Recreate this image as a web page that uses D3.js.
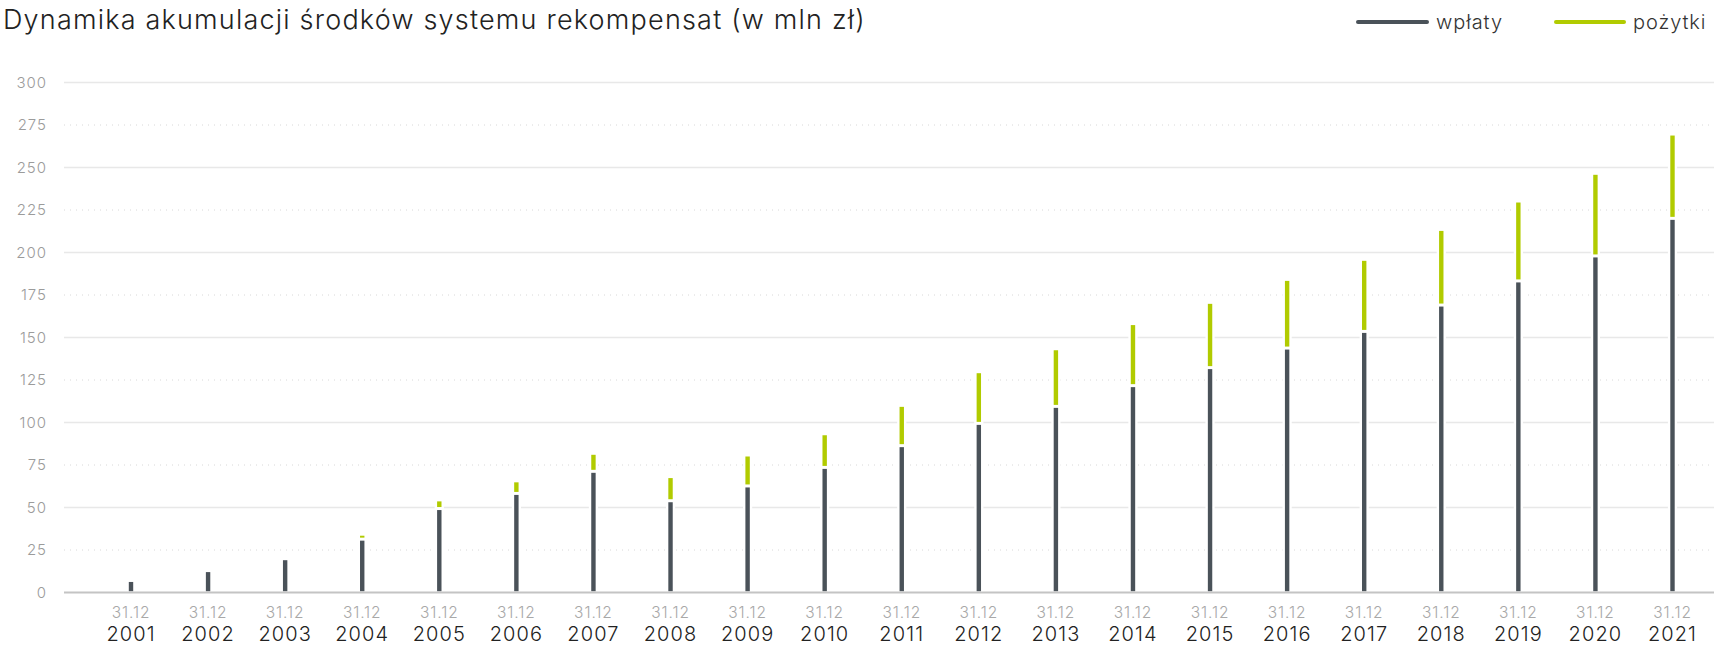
<!DOCTYPE html>
<html>
<head>
<meta charset="utf-8">
<script src="https://cdnjs.cloudflare.com/ajax/libs/d3/7.8.5/d3.min.js"></script>
<style>
  body { margin: 0; background: #fff; }
  svg { display: block; font-family: Inter, 'Noto Sans', sans-serif; }
</style>
</head>
<body>
<div id="chart"></div>
<script>
// Dynamika akumulacji środków systemu rekompensat (w mln zł)
const years = ['2001', '2002', '2003', '2004', '2005', '2006', '2007', '2008', '2009', '2010', '2011',
    '2012', '2013', '2014', '2015', '2016', '2017', '2018', '2019', '2020', '2021'];
const dateLabel = '31.12';
const wplaty = [6.2, 12, 19, 30.5, 48.5, 57.4, 70.4, 53.1, 61.8, 72.7, 85.5,
    98.6, 108.6, 120.8, 131.4, 142.9, 152.7, 168.2, 182.4, 197.1, 219.2];
const pozytki = [0, 0, 0, 2.9, 5.1, 7.4, 10.6, 14.2, 18.2, 19.8, 23.7,
    30.4, 33.9, 36.5, 38.4, 40.4, 42.4, 44.5, 47, 48.6, 49.6];
const yTicks = [0, 25, 50, 75, 100, 125, 150, 175, 200, 225, 250, 275, 300];
const seriesNames = ['wpłaty', 'pożytki'];
const colors = ['#4a5259', '#b1cb00'];

const svgWidth = 1714;
const svgHeight = 645;

const chartData = years.map((yr, i) => ({ year: yr, w: wplaty[i], p: pozytki[i] }));

const svg = d3.select('#chart')
    .append('svg')
    .attr('width', svgWidth)
    .attr('height', svgHeight);

const xScale = d3.scalePoint()
    .domain(years)
    .range([131, 1672.5]);
const yScale = d3.scaleLinear()
    .domain([0, 300])
    .range([592.5, 82.5]);

// title
svg.append('text')
    .attr('x', 3)
    .attr('y', 29)
    .attr('font-size', 27)
    .attr('font-weight', 300)
    .attr('letter-spacing', 1.2)
    .attr('fill', '#222')
    .text('Dynamika akumulacji środków systemu rekompensat (w mln zł)');

// legend
const legendPos = [{ x1: 1358, x2: 1427, tx: 1436 }, { x1: 1556, x2: 1624, tx: 1633 }];
seriesNames.forEach((name, i) => {
    svg.append('line')
        .attr('x1', legendPos[i].x1).attr('x2', legendPos[i].x2)
        .attr('y1', 22).attr('y2', 22)
        .attr('stroke', colors[i])
        .attr('stroke-width', 4)
        .attr('stroke-linecap', 'round');
    svg.append('text')
        .attr('x', legendPos[i].tx)
        .attr('y', 28.5)
        .attr('font-size', 20)
        .attr('font-weight', 300)
        .attr('letter-spacing', 0.9)
        .attr('fill', '#333')
        .text(name);
});

// grid
svg.append('g')
    .selectAll('line')
    .data(yTicks.filter(t => t > 0))
    .enter()
    .append('line')
    .attr('x1', 64)
    .attr('x2', svgWidth)
    .attr('y1', d => yScale(d))
    .attr('y2', d => yScale(d))
    .attr('stroke', d => d % 50 === 0 ? '#e8e8e8' : '#d8d8d8')
    .attr('stroke-width', d => d % 50 === 0 ? 1.5 : 1)
    .attr('stroke-dasharray', d => d % 50 === 0 ? null : '1,5');

// y axis labels
const yAxis = svg.append('g')
    .attr('transform', 'translate(47,0)')
    .call(d3.axisLeft(yScale).tickValues(yTicks).tickSize(0).tickPadding(0));
yAxis.select('.domain').remove();
yAxis.selectAll('text')
    .attr('font-family', 'Inter, sans-serif')
    .attr('font-size', 15)
    .attr('font-weight', 300)
    .attr('letter-spacing', 1)
    .attr('fill', '#9b9b9b');

// bars
const bars = svg.append('g')
    .selectAll('g')
    .data(chartData)
    .enter()
    .append('g');

bars.append('rect')
    .attr('x', d => xScale(d.year) - 4.6)
    .attr('width', 9.2)
    .attr('y', d => yScale(d.w + d.p) - 1)
    .attr('height', d => yScale(0) - yScale(d.w + d.p))
    .attr('fill', '#fff');

bars.append('rect')
    .attr('x', d => xScale(d.year) - 2.2)
    .attr('width', 4.4)
    .attr('y', d => yScale(d.w))
    .attr('height', d => yScale(0) - 1.2 - yScale(d.w))
    .attr('fill', colors[0]);

bars.filter(d => d.p > 0)
    .append('rect')
    .attr('x', d => xScale(d.year) - 2.2)
    .attr('width', 4.4)
    .attr('y', d => yScale(d.w + d.p))
    .attr('height', d => Math.max(1.5, yScale(d.w) - 3 - yScale(d.w + d.p)))
    .attr('fill', colors[1]);

// baseline
svg.append('line')
    .attr('x1', 64)
    .attr('x2', svgWidth)
    .attr('y1', yScale(0))
    .attr('y2', yScale(0))
    .attr('stroke', '#c4c4c4')
    .attr('stroke-width', 2);

// x labels
const xLabels = svg.append('g')
    .selectAll('g')
    .data(years)
    .enter()
    .append('g')
    .attr('transform', d => `translate(${xScale(d)},0)`);

xLabels.append('text')
    .attr('y', 617.5)
    .attr('text-anchor', 'middle')
    .attr('font-size', 15.5)
    .attr('font-weight', 300)
    .attr('letter-spacing', 0.9)
    .attr('fill', '#a8a8a8')
    .text(dateLabel);

xLabels.append('text')
    .attr('y', 640.5)
    .attr('text-anchor', 'middle')
    .attr('font-size', 20)
    .attr('font-weight', 300)
    .attr('letter-spacing', 1.1)
    .attr('fill', '#222')
    .text(d => d);
</script>
</body>
</html>
